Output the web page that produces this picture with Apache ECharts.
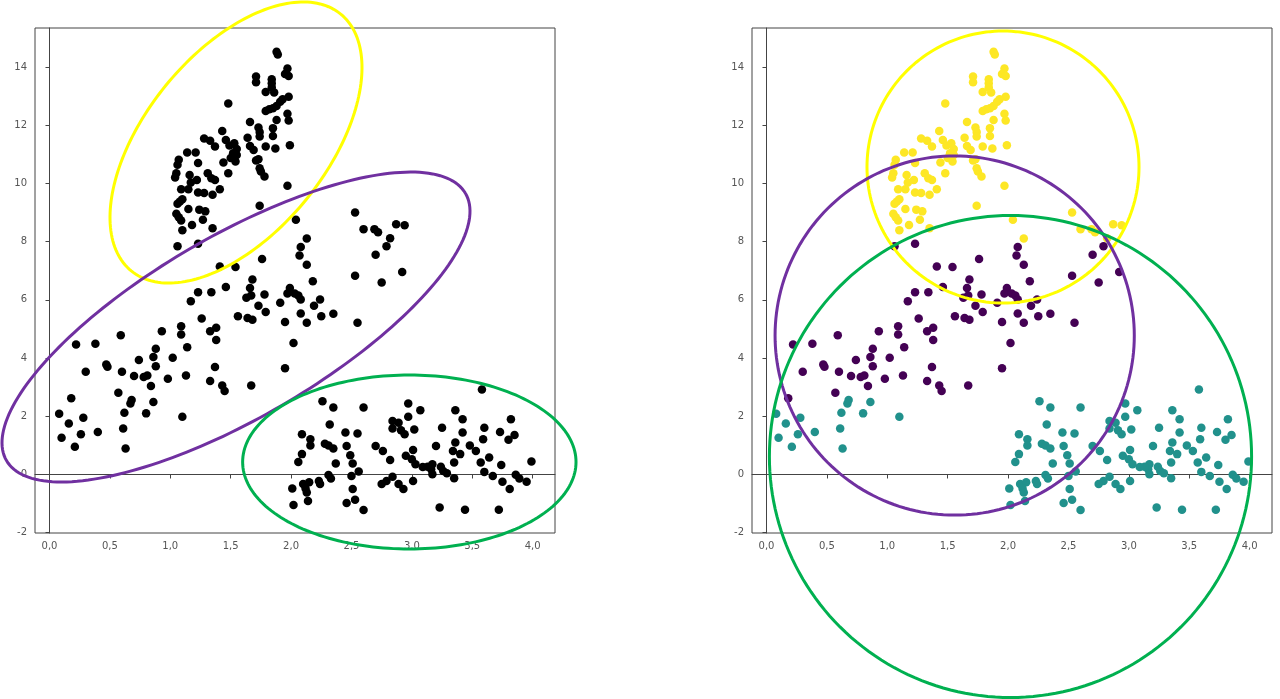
<!DOCTYPE html>
<html lang="en">
<head>
<meta charset="UTF-8">
<title>Clusters</title>
<script src="https://cdn.jsdelivr.net/npm/echarts@6.0.0/dist/echarts.min.js"></script>
<style>
  body { margin: 0; background: #fff; }
  #chart { width: 1280px; height: 699px; }
</style>
</head>
<body>
<div id="chart"></div>
<script>
// points, grouped by the colour they get on the right
const yellowPts = [
  [1.88,14.52],[1.89,14.43],[1.97,13.95],[1.95,13.76],[1.98,13.69],[1.71,13.67],[1.71,13.48],
  [1.84,13.58],[1.84,13.44],[1.84,13.30],[1.79,13.14],[1.86,13.12],[1.98,12.98],[1.93,12.89],
  [1.91,12.81],[1.88,12.66],[1.85,12.58],[1.82,12.55],[1.79,12.49],[1.48,12.75],[1.97,12.39],
  [1.98,12.16],[1.88,12.18],[1.66,12.11],[1.73,11.92],[1.74,11.77],[1.74,11.61],[1.85,11.90],
  [1.85,11.63],[1.99,11.31],[1.87,11.20],[1.79,11.27],[1.43,11.80],[1.64,11.57],[1.66,11.29],
  [1.69,11.15],[1.28,11.54],[1.33,11.47],[1.37,11.27],[1.46,11.49],[1.49,11.30],[1.53,11.38],
  [1.55,11.18],[1.52,11.04],[1.55,10.98],[1.50,10.87],[1.54,10.75],[1.44,10.72],[1.48,10.35],
  [1.71,10.79],[1.73,10.83],[1.74,10.52],[1.75,10.41],[1.78,10.24],[1.97,9.92],[1.07,10.81],
  [1.06,10.64],[1.05,10.35],[1.04,10.20],[1.14,11.06],[1.21,11.06],[1.23,10.70],[1.16,10.29],
  [1.22,10.12],[1.17,10.03],[1.15,9.80],[1.09,9.80],[1.31,10.35],[1.34,10.18],[1.37,10.12],
  [1.23,9.69],[1.28,9.67],[1.35,9.61],[1.41,9.80],[1.08,9.38],[1.10,9.46],[1.06,9.30],
  [1.15,9.12],[1.24,9.10],[1.29,9.04],[1.05,8.96],[1.07,8.84],[1.09,8.73],[1.10,8.39],
  [1.18,8.57],[1.27,8.75],[1.35,8.46],[1.74,9.23],[2.04,8.75],[2.13,8.11],[2.53,9.00],
  [2.60,8.43],[2.69,8.43],[2.72,8.32],[2.87,8.60],[2.94,8.56],[2.82,8.12]
];
const purplePts = [
  [1.06,7.84],[1.23,7.93],[2.08,7.82],[2.07,7.52],[2.13,7.21],[1.76,7.40],[1.41,7.15],
  [1.54,7.13],[2.18,6.64],[1.68,6.70],[1.66,6.41],[1.63,6.07],[1.67,6.15],[1.46,6.44],
  [1.99,6.41],[1.97,6.22],[2.03,6.22],[2.06,6.15],[2.08,6.01],[1.78,6.18],[1.23,6.26],
  [1.34,6.26],[1.73,5.80],[1.79,5.58],[1.56,5.44],[1.64,5.38],[1.68,5.32],[1.91,5.90],
  [2.19,5.80],[2.08,5.53],[2.13,5.21],[1.95,5.24],[2.02,4.52],[1.95,3.65],[1.67,3.06],
  [1.17,5.95],[1.26,5.36],[1.33,4.92],[1.38,5.04],[1.38,4.62],[1.09,5.09],[1.09,4.81],
  [0.93,4.92],[1.14,4.37],[1.02,4.01],[0.88,4.32],[0.86,4.04],[0.88,3.72],[0.74,3.93],
  [0.59,4.78],[0.22,4.47],[0.38,4.49],[0.47,3.78],[0.48,3.70],[0.30,3.53],[0.60,3.53],
  [0.70,3.38],[0.78,3.35],[0.81,3.40],[0.84,3.04],[0.98,3.29],[1.13,3.40],[1.37,3.69],
  [1.33,3.21],[1.43,3.06],[1.45,2.87],[0.57,2.81],[0.18,2.62],[2.24,6.01],[2.25,5.44],
  [2.35,5.52],[2.79,7.84],[2.70,7.55],[2.92,6.96],[2.53,6.83],[2.75,6.60],[2.55,5.21]
];
const tealPts = [
  [0.08,2.09],[0.10,1.26],[0.16,1.75],[0.21,0.95],[0.28,1.95],[0.26,1.38],[0.40,1.46],
  [0.62,2.12],[0.61,1.58],[0.63,0.89],[0.68,2.56],[0.67,2.44],[0.80,2.10],[0.86,2.49],
  [1.10,1.98],[2.09,1.38],[2.16,1.21],[2.16,1.00],[2.09,0.70],[2.06,0.43],[2.10,-0.33],
  [2.15,-0.27],[2.12,-0.48],[2.13,-0.62],[2.14,-0.91],[2.01,-0.48],[2.02,-1.05],[3.58,2.92],
  [2.26,2.52],[2.35,2.30],[2.60,2.30],[2.97,2.44],[3.07,2.21],[3.36,2.21],[2.97,1.98],
  [2.84,1.84],[2.89,1.78],[2.84,1.58],[2.91,1.52],[2.94,1.38],[3.02,1.55],[2.32,1.72],
  [2.45,1.44],[2.55,1.41],[3.42,1.90],[3.25,1.61],[3.42,1.44],[3.60,1.61],[3.82,1.90],
  [3.73,1.46],[3.85,1.36],[3.80,1.19],[3.59,1.21],[3.36,1.10],[3.48,1.00],[3.53,0.81],
  [3.34,0.81],[3.40,0.70],[3.35,0.41],[3.64,0.58],[3.57,0.41],[3.74,0.33],[3.99,0.45],
  [3.60,0.09],[3.67,-0.05],[3.86,-0.01],[3.89,-0.14],[3.95,-0.25],[3.75,-0.25],[3.81,-0.50],
  [3.72,-1.21],[3.44,-1.21],[3.23,-1.13],[3.35,-0.13],[3.20,0.98],[3.17,0.35],[3.16,0.18],
  [3.13,0.27],[3.09,0.26],[3.24,0.27],[3.26,0.12],[3.29,0.04],[3.17,0.01],[2.95,0.64],
  [3.00,0.52],[3.03,0.35],[3.01,0.84],[3.01,-0.22],[2.70,0.98],[2.76,0.81],[2.82,0.50],
  [2.84,-0.08],[2.79,-0.22],[2.75,-0.33],[2.89,-0.33],[2.93,-0.50],[2.28,1.06],[2.31,1.00],
  [2.35,0.89],[2.46,0.98],[2.49,0.66],[2.51,0.38],[2.37,0.38],[2.56,0.10],[2.50,-0.05],
  [2.31,-0.02],[2.33,-0.14],[2.23,-0.22],[2.24,-0.33],[2.51,-0.50],[2.46,-0.98],[2.53,-0.87],
  [2.60,-1.22]
];

const xTicks = [0, 0.5, 1, 1.5, 2, 2.5, 3, 3.5, 4];
const yTicks = [-2, 0, 2, 4, 6, 8, 10, 12, 14];

// ellipses in data units: centre x, centre y, half-axis one (dx, dy), half-axis two (dx, dy)
const leftEllipses = [
  [1.544, 11.406, 0.867, 4.411, 0.580, -1.965],
  [1.544, 5.067, 1.900, 4.590, 0.378, -2.697],
  [2.979, 0.429, 1.380, 0, 0, 2.989]
];
const rightEllipses = [
  [1.958, 10.564, 1.126, 0, 0, 4.672],
  [1.558, 4.775, 1.487, 0, 0, 6.170],
  [2.020, 0.618, 1.996, 0, 0, 8.280]
];
const ringColors = ['#ffff00', '#7030a0', '#00b050'];
const clusterColors = ['#fde725', '#440154', '#21918c'];

const chart = echarts.init(document.getElementById('chart'));

function ellipseItem(params, api) {
  const cx = api.value(0), cy = api.value(1);
  const ux = api.value(2), uy = api.value(3);
  const vx = api.value(4), vy = api.value(5);
  const pts = [];
  for (let i = 0; i <= 200; i++) {
    const t = i / 200 * Math.PI * 2;
    pts.push(api.coord([
      cx + ux * Math.cos(t) + vx * Math.sin(t),
      cy + uy * Math.cos(t) + vy * Math.sin(t)
    ]));
  }
  return {
    type: 'polyline',
    shape: { points: pts },
    style: { stroke: ringColors[params.dataIndex], lineWidth: 3, fill: null }
  };
}

const labelStyle = { color: '#555', fontSize: 10, fontFamily: 'DejaVu Sans', margin: 8 };

function makeX(i) {
  return {
    type: 'value', gridIndex: i, min: -0.12, max: 4.185,
    splitLine: { show: false },
    axisLine: { show: true, lineStyle: { color: '#444' } },
    axisTick: { show: true, length: 4, customValues: xTicks, lineStyle: { color: '#444' } },
    axisLabel: Object.assign({}, labelStyle, {
      customValues: xTicks,
      formatter: v => v.toFixed(1).replace('.', ',')
    })
  };
}
function makeY(i) {
  return {
    type: 'value', gridIndex: i, min: -2.01, max: 15.34,
    splitLine: { show: false },
    axisLine: { show: true, lineStyle: { color: '#444' } },
    axisTick: { show: true, length: 4, customValues: yTicks, lineStyle: { color: '#444' } },
    axisLabel: Object.assign({}, labelStyle, { customValues: yTicks, formatter: v => String(v) })
  };
}

const dot = 8.5;

chart.setOption({
  animation: false,
  backgroundColor: '#fff',
  grid: [
    { left: 35, top: 28, width: 520, height: 505, show: true, borderColor: '#444', borderWidth: 1 },
    { left: 752, top: 28, width: 520, height: 505, show: true, borderColor: '#444', borderWidth: 1 }
  ],
  xAxis: [makeX(0), makeX(1)],
  yAxis: [makeY(0), makeY(1)],
  series: [
    {
      type: 'scatter', xAxisIndex: 0, yAxisIndex: 0, symbolSize: dot,
      itemStyle: { color: '#000', opacity: 1 },
      data: yellowPts.concat(purplePts, tealPts)
    },
    {
      type: 'custom', xAxisIndex: 0, yAxisIndex: 0, clip: false, z: 5,
      renderItem: ellipseItem, data: leftEllipses
    },
    {
      type: 'scatter', xAxisIndex: 1, yAxisIndex: 1, symbolSize: dot,
      itemStyle: { color: clusterColors[0], opacity: 1 }, data: yellowPts
    },
    {
      type: 'scatter', xAxisIndex: 1, yAxisIndex: 1, symbolSize: dot,
      itemStyle: { color: clusterColors[1], opacity: 1 }, data: purplePts
    },
    {
      type: 'scatter', xAxisIndex: 1, yAxisIndex: 1, symbolSize: dot,
      itemStyle: { color: clusterColors[2], opacity: 1 }, data: tealPts
    },
    {
      type: 'custom', xAxisIndex: 1, yAxisIndex: 1, clip: false, z: 5,
      renderItem: ellipseItem, data: rightEllipses
    }
  ]
});
</script>
</body>
</html>
